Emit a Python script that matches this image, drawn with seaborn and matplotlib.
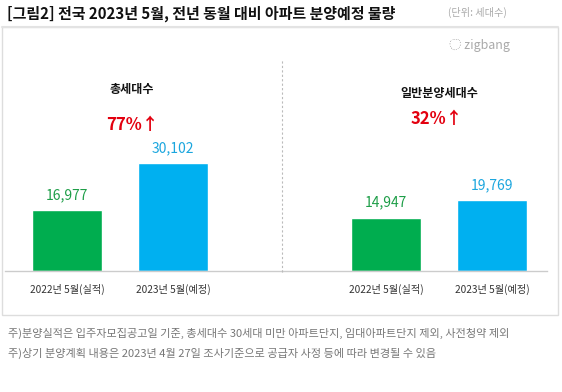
import matplotlib
matplotlib.use("Agg")
import matplotlib.pyplot as plt
import seaborn as sns
from matplotlib.patches import Rectangle
from matplotlib.lines import Line2D

# 데이터
periods = ["2022년 5월(실적)", "2023년 5월(예정)"]
total_units = [16977, 30102]
general_units = [14947, 19769]
panel_titles = ["총세대수", "일반분양세대수"]
growth_labels = ["77%", "32%"]

TITLE = "[그림2] 전국 2023년 5월, 전년 동월 대비 아파트 분양예정 물량"
UNIT = "(단위: 세대수)"
NOTES = [
    "주)분양실적은 입주자모집공고일 기준, 총세대수 30세대 미만 아파트단지, 임대아파트단지 제외, 사전청약 제외",
    "주)상기 분양계획 내용은 2023년 4월 27일 조사기준으로 공급자 사정 등에 따라 변경될 수 있음",
]

GREEN = "#00AD4F"
BLUE = "#00B0F0"
GREEN_TXT = "#1E9E48"
BLUE_TXT = "#1BA6DE"
RED = "#E3000F"

sns.set_style("white")
plt.rcParams["font.family"] = ["Noto Sans CJK KR", "DejaVu Sans"]

W, H = 562, 392
fig = plt.figure(figsize=(W / 100, H / 100), dpi=100)
fig.patch.set_facecolor("white")


def px(x0, y0, x1, y1):
    """픽셀 좌표(위에서부터) -> figure 비율 [left, bottom, width, height]"""
    return [x0 / W, 1 - y1 / H, (x1 - x0) / W, (y1 - y0) / H]


# 차트 박스
fig.add_artist(Rectangle((2 / W, 1 - 315 / H), 556 / W, 288 / H,
                         transform=fig.transFigure, fill=False,
                         edgecolor="#DDDDDD", linewidth=1.0))
# 가운데 점선
fig.add_artist(Line2D([282 / W, 282 / W], [1 - 272 / H, 1 - 60 / H],
                      transform=fig.transFigure, color="#BBBBBB",
                      linestyle=(0, (2, 2)), linewidth=0.8))

ax1 = fig.add_axes(px(5, 60, 282, 271))
ax2 = fig.add_axes(px(282, 60, 547, 271))

for ax, vals, xlim in [(ax1, total_units, (-0.585, 2.03)),
                       (ax2, general_units, (-0.98, 1.52))]:
    sns.barplot(x=periods, y=vals, hue=periods, palette=[GREEN, BLUE],
                legend=False, width=0.66, ax=ax, saturation=1)
    ax.set_xlim(*xlim)
    ax.set_ylim(0, 59000)
    for side in ["top", "right", "left"]:
        ax.spines[side].set_visible(False)
    ax.spines["bottom"].set_color("#CCCCCC")
    ax.spines["bottom"].set_linewidth(1.0)
    ax.set_yticks([])
    ax.tick_params(axis="x", length=0, labelsize=7.3, colors="#333333", pad=9)
    ax.set_facecolor("none")
    for i, v in enumerate(vals):
        ax.text(i, v + 2200, f"{v:,}", ha="center", va="bottom",
                fontsize=10, fontweight="medium", color=[GREEN_TXT, BLUE_TXT][i])

# 패널 제목 / 증가율
fig.text(132 / W, 1 - 90 / H, panel_titles[0], ha="center", va="center",
         fontsize=8.7, fontweight="bold", color="#111111")
fig.text(132 / W, 1 - 125 / H, growth_labels[0] + "↑", ha="center", va="center",
         fontsize=12, fontweight="bold", color=RED)
fig.text(439 / W, 1 - 93 / H, panel_titles[1], ha="center", va="center",
         fontsize=8.7, fontweight="bold", color="#111111")
fig.text(437 / W, 1 - 119 / H, growth_labels[1] + "↑", ha="center", va="center",
         fontsize=12, fontweight="bold", color=RED)

# 제목, 단위, 로고
fig.text(7 / W, 1 - 14 / H, TITLE, ha="left", va="center",
         fontsize=10.8, fontweight="bold", color="#111111")
fig.text(507 / W, 1 - 12 / H, UNIT, ha="right", va="center",
         fontsize=7.3, color="#AAAAAA")
fig.add_artist(Line2D([2 / W, 558 / W], [1 - 27 / H, 1 - 27 / H],
                      transform=fig.transFigure, color="#E3E3E3", linewidth=1.5))
fig.text(510 / W, 1 - 46 / H, "◌ zigbang", ha="right", va="center",
         fontsize=9, color="#AAAAAA")

# 주석
fig.text(8 / W, 1 - 333 / H, NOTES[0], ha="left", va="center",
         fontsize=8, color="#777777")
fig.text(8 / W, 1 - 353 / H, NOTES[1], ha="left", va="center",
         fontsize=8, color="#777777")

fig.savefig("out.png", dpi=100)
plt.close(fig)
